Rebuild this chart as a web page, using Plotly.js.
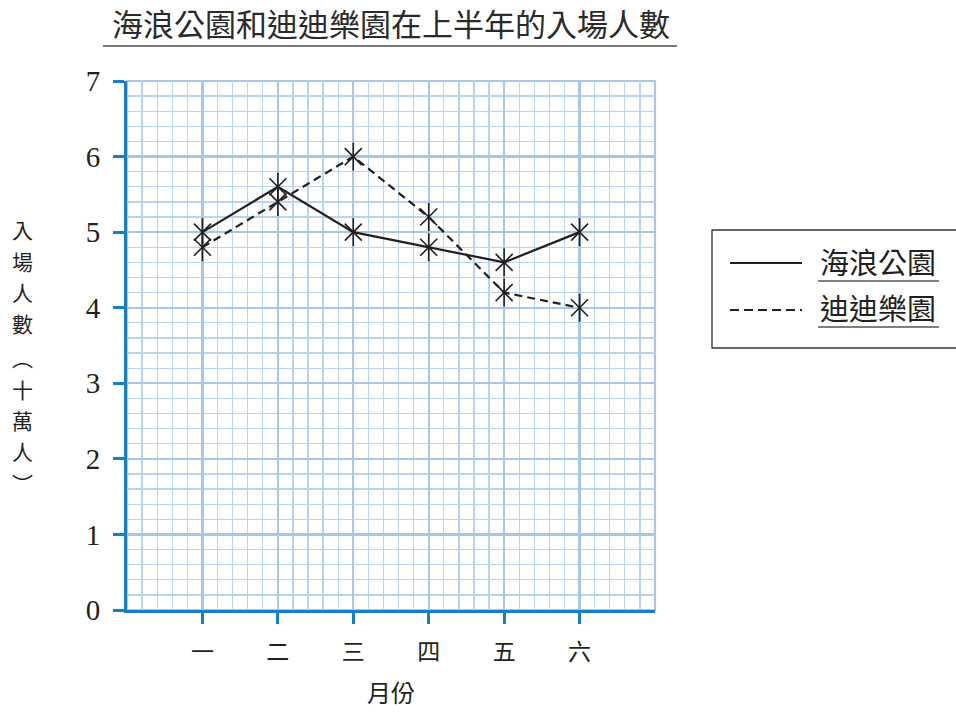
<!DOCTYPE html>
<html>
<head>
<meta charset="utf-8">
<script src="https://cdn.plot.ly/plotly-3.0.1.min.js"></script>
<style>html,body{margin:0;padding:0;background:#fff;}#chart{width:956px;height:713px;}</style>
</head>
<body>
<div id="chart"></div>
<script>
// ---- data ----
var months = ['一', '二', '三', '四', '五', '六'];
var monthIndex = [0, 1, 2, 3, 4, 5];
var seriesNames = ['海浪公園', '迪迪樂園'];
var haiLang = [5.0, 5.6, 5.0, 4.8, 4.6, 5.0];
var diDi = [4.8, 5.4, 6.0, 5.2, 4.2, 4.0];
var yTickVals = [0, 1, 2, 3, 4, 5, 6, 7];
var chartTitle = '海浪公園和迪迪樂園在上半年的入場人數';
var xTitle = '月份';
var yTitleChars = ['入', '場', '人', '數', '︵', '十', '萬', '人', '︶'];

var CJK = '"Noto Sans CJK TC", "Noto Sans CJK SC", sans-serif';
var INK = '#231f20';
var BLUE = '#1a7ec6';

function lineTrace(y, name, dash) {
  return {x: monthIndex, y: y, name: name, type: 'scatter', mode: 'lines',
    line: {color: INK, width: 2.2, dash: dash}, showlegend: false, hoverinfo: 'x+y'};
}
function markTrace(y, sym, size) {
  return {x: monthIndex, y: y, type: 'scatter', mode: 'markers', showlegend: false,
    marker: {symbol: sym, size: size, color: INK, line: {color: INK, width: 1.6}}, hoverinfo: 'skip'};
}

var data = [
  lineTrace(haiLang, seriesNames[0], 'solid'),
  lineTrace(diDi, seriesNames[1], '8px,5px'),
  markTrace(haiLang, 'x-thin-open', 17),
  markTrace(haiLang, 'line-ns-open', 20),
  markTrace(diDi, 'x-thin-open', 17),
  markTrace(diDi, 'line-ns-open', 20)
];

var W = 528, H = 529, L = 127, T = 81;
function px(x) { return (x - L) / W; }
function py(y) { return (T + H - y) / H; }

var shapes = [
  {type: 'rect', xref: 'paper', yref: 'paper', x0: 0, x1: 1, y0: 0, y1: 1,
   line: {color: '#a9c5e8', width: 2.2}, layer: 'between'},
  {type: 'line', xref: 'paper', yref: 'paper', x0: px(103), x1: px(677), y0: py(46), y1: py(46),
   line: {color: '#4a4a4a', width: 1.6}},
  {type: 'rect', xref: 'paper', yref: 'paper', x0: px(712), x1: px(962), y0: py(230), y1: py(348),
   line: {color: '#333', width: 1.3}},
  {type: 'line', xref: 'paper', yref: 'paper', x0: px(730), x1: px(802), y0: py(263), y1: py(263),
   line: {color: INK, width: 2.2}},
  {type: 'line', xref: 'paper', yref: 'paper', x0: px(730), x1: px(802), y0: py(310), y1: py(310),
   line: {color: INK, width: 2.2, dash: '9px,5px'}},
  {type: 'line', xref: 'paper', yref: 'paper', x0: px(818), x1: px(939), y0: py(281), y1: py(281),
   line: {color: '#555', width: 1.4}},
  {type: 'line', xref: 'paper', yref: 'paper', x0: px(818), x1: px(939), y0: py(327), y1: py(327),
   line: {color: '#555', width: 1.4}}
];

var annotations = [
  {xref: 'paper', yref: 'paper', x: px(878), y: py(261), text: seriesNames[0], showarrow: false,
   xanchor: 'center', yanchor: 'middle', font: {family: CJK, size: 29, color: INK}},
  {xref: 'paper', yref: 'paper', x: px(878), y: py(307), text: seriesNames[1], showarrow: false,
   xanchor: 'center', yanchor: 'middle', font: {family: CJK, size: 29, color: INK}}
];
// vertical y-axis title, one character per annotation
var yTitleCenters = [229, 261, 292, 323, 357, 389, 420, 451, 483];
yTitleChars.forEach(function (ch, i) {
  annotations.push({xref: 'paper', yref: 'paper', x: px(22), y: py(yTitleCenters[i]), text: ch,
    showarrow: false, xanchor: 'center', yanchor: 'middle', borderpad: 0,
    font: {family: CJK, size: 21, color: INK}});
});

var layout = {
  width: 956, height: 713,
  margin: {l: L, r: 956 - L - W, t: T, b: 713 - T - H, pad: 0},
  paper_bgcolor: '#ffffff', plot_bgcolor: '#ffffff',
  showlegend: false,
  title: {text: chartTitle, x: 0.5, xref: 'paper', xanchor: 'center', y: 1 - 25 / 713, yref: 'container', yanchor: 'middle',
          font: {family: CJK, size: 31, color: '#2a2a2a'}},
  xaxis: {
    type: 'linear', range: [-1, 6], tickmode: 'array', tickvals: monthIndex, ticktext: months,
    showline: true, linecolor: BLUE, linewidth: 3,
    ticks: 'outside', ticklen: 11, tickwidth: 3, tickcolor: BLUE,
    showgrid: true, gridcolor: '#a9c5e8', gridwidth: 2.4, zeroline: false,
    minor: {tick0: 0, dtick: 0.2, showgrid: true, gridcolor: '#bcd3ef', gridwidth: 1.3},
    tickfont: {family: CJK, size: 23, color: INK},
    ticklabelstandoff: 8,
    title: {text: xTitle, standoff: 20, font: {family: CJK, size: 24, color: INK}},
    automargin: false, fixedrange: true
  },
  yaxis: {
    range: [0, 7], tickmode: 'array', tickvals: yTickVals,
    showline: true, linecolor: BLUE, linewidth: 3,
    ticks: 'outside', ticklen: 11, tickwidth: 3, tickcolor: BLUE,
    showgrid: true, gridcolor: '#a9c5e8', gridwidth: 2.4, zeroline: false,
    minor: {tick0: 0, dtick: 0.2, showgrid: true, gridcolor: '#bcd3ef', gridwidth: 1.3},
    tickfont: {family: '"Liberation Serif", "Times New Roman", serif', size: 29, color: INK},
    ticklabelstandoff: 7,
    automargin: false, fixedrange: true
  },
  shapes: shapes,
  annotations: annotations
};

Plotly.newPlot('chart', data, layout, {displayModeBar: false, staticPlot: true});
</script>
</body>
</html>
